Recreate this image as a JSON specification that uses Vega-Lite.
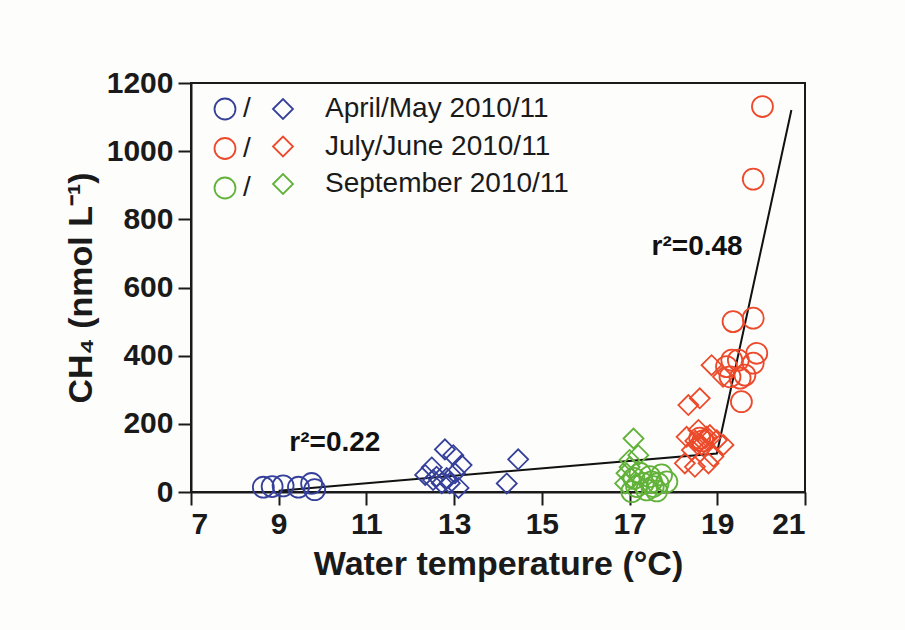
{
  "$schema": "https://vega.github.io/schema/vega-lite/v6.json",
  "width": 614,
  "height": 409,
  "autosize": {"type": "none"},
  "padding": {"left": 191, "top": 83, "right": 100, "bottom": 138},
  "background": "#fdfdfc",
  "config": {
    "view": {"stroke": "#1a1a1a", "strokeWidth": 2},
    "font": "Liberation Sans",
    "axis": {
      "grid": false,
      "domainColor": "#1a1a1a",
      "domainWidth": 2,
      "tickColor": "#1a1a1a",
      "tickWidth": 2,
      "tickSize": 13,
      "labelFont": "Liberation Sans",
      "labelFontSize": 30,
      "labelFontWeight": "bold",
      "labelColor": "#1a1a1a",
      "titleFont": "Liberation Sans",
      "titleFontSize": 34,
      "titleFontWeight": "bold",
      "titleColor": "#1a1a1a"
    },
    "legend": {
      "labelFont": "Liberation Sans",
      "labelColor": "#1a1a1a",
      "labelLimit": 0
    }
  },
  "datasets": {
    "pts": [
      {"T": 8.65, "C": 14, "season": "April/May 2010/11", "year": 2010},
      {"T": 8.85, "C": 16, "season": "April/May 2010/11", "year": 2010},
      {"T": 9.1, "C": 18, "season": "April/May 2010/11", "year": 2010},
      {"T": 9.45, "C": 14, "season": "April/May 2010/11", "year": 2010},
      {"T": 9.75, "C": 25, "season": "April/May 2010/11", "year": 2010},
      {"T": 9.82, "C": 7, "season": "April/May 2010/11", "year": 2010},
      {"T": 12.79, "C": 125, "season": "April/May 2010/11", "year": 2011},
      {"T": 12.98, "C": 108, "season": "April/May 2010/11", "year": 2011},
      {"T": 13.17, "C": 79, "season": "April/May 2010/11", "year": 2011},
      {"T": 12.49, "C": 72, "season": "April/May 2010/11", "year": 2011},
      {"T": 12.34, "C": 50, "season": "April/May 2010/11", "year": 2011},
      {"T": 12.6, "C": 45, "season": "April/May 2010/11", "year": 2011},
      {"T": 12.83, "C": 41, "season": "April/May 2010/11", "year": 2011},
      {"T": 13.02, "C": 55, "season": "April/May 2010/11", "year": 2011},
      {"T": 12.9, "C": 26, "season": "April/May 2010/11", "year": 2011},
      {"T": 13.1, "C": 12, "season": "April/May 2010/11", "year": 2011},
      {"T": 12.72, "C": 26, "season": "April/May 2010/11", "year": 2011},
      {"T": 12.52, "C": 35, "season": "April/May 2010/11", "year": 2011},
      {"T": 14.46, "C": 96, "season": "April/May 2010/11", "year": 2011},
      {"T": 14.2, "C": 25, "season": "April/May 2010/11", "year": 2011},
      {"T": 17.05, "C": 1, "season": "September 2010/11", "year": 2010},
      {"T": 17.31, "C": 25, "season": "September 2010/11", "year": 2010},
      {"T": 17.54, "C": 16, "season": "September 2010/11", "year": 2010},
      {"T": 17.73, "C": 50, "season": "September 2010/11", "year": 2010},
      {"T": 17.46, "C": 45, "season": "September 2010/11", "year": 2010},
      {"T": 17.24, "C": 55, "season": "September 2010/11", "year": 2010},
      {"T": 17.65, "C": 25, "season": "September 2010/11", "year": 2010},
      {"T": 17.85, "C": 30, "season": "September 2010/11", "year": 2010},
      {"T": 17.16, "C": 16, "season": "September 2010/11", "year": 2010},
      {"T": 17.39, "C": 6, "season": "September 2010/11", "year": 2010},
      {"T": 17.62, "C": 3, "season": "September 2010/11", "year": 2010},
      {"T": 17.1, "C": 40, "season": "September 2010/11", "year": 2010},
      {"T": 17.5, "C": 30, "season": "September 2010/11", "year": 2010},
      {"T": 17.09, "C": 157, "season": "September 2010/11", "year": 2011},
      {"T": 17.2, "C": 108, "season": "September 2010/11", "year": 2011},
      {"T": 17.0, "C": 94, "season": "September 2010/11", "year": 2011},
      {"T": 16.93, "C": 55, "season": "September 2010/11", "year": 2011},
      {"T": 17.05, "C": 40, "season": "September 2010/11", "year": 2011},
      {"T": 16.9, "C": 25, "season": "September 2010/11", "year": 2011},
      {"T": 17.0, "C": 73, "season": "September 2010/11", "year": 2011},
      {"T": 20.03, "C": 1131, "season": "July/June 2010/11", "year": 2010},
      {"T": 19.82, "C": 918, "season": "July/June 2010/11", "year": 2010},
      {"T": 19.36, "C": 500, "season": "July/June 2010/11", "year": 2010},
      {"T": 19.82, "C": 510, "season": "July/June 2010/11", "year": 2010},
      {"T": 19.9, "C": 407, "season": "July/June 2010/11", "year": 2010},
      {"T": 19.33, "C": 387, "season": "July/June 2010/11", "year": 2010},
      {"T": 19.48, "C": 387, "season": "July/June 2010/11", "year": 2010},
      {"T": 19.82, "C": 378, "season": "July/June 2010/11", "year": 2010},
      {"T": 19.21, "C": 368, "season": "July/June 2010/11", "year": 2010},
      {"T": 19.63, "C": 343, "season": "July/June 2010/11", "year": 2010},
      {"T": 19.29, "C": 338, "season": "July/June 2010/11", "year": 2010},
      {"T": 19.52, "C": 334, "season": "July/June 2010/11", "year": 2010},
      {"T": 19.55, "C": 265, "season": "July/June 2010/11", "year": 2010},
      {"T": 18.6, "C": 158, "season": "July/June 2010/11", "year": 2010},
      {"T": 18.67, "C": 150, "season": "July/June 2010/11", "year": 2010},
      {"T": 18.34, "C": 255, "season": "July/June 2010/11", "year": 2011},
      {"T": 18.6, "C": 275, "season": "July/June 2010/11", "year": 2011},
      {"T": 18.87, "C": 372, "season": "July/June 2010/11", "year": 2011},
      {"T": 19.13, "C": 338, "season": "July/June 2010/11", "year": 2011},
      {"T": 18.3, "C": 162, "season": "July/June 2010/11", "year": 2011},
      {"T": 18.57, "C": 182, "season": "July/June 2010/11", "year": 2011},
      {"T": 18.76, "C": 162, "season": "July/June 2010/11", "year": 2011},
      {"T": 19.14, "C": 138, "season": "July/June 2010/11", "year": 2011},
      {"T": 18.26, "C": 84, "season": "July/June 2010/11", "year": 2011},
      {"T": 18.49, "C": 74, "season": "July/June 2010/11", "year": 2011},
      {"T": 18.8, "C": 84, "season": "July/June 2010/11", "year": 2011},
      {"T": 18.91, "C": 104, "season": "July/June 2010/11", "year": 2011},
      {"T": 18.42, "C": 123, "season": "July/June 2010/11", "year": 2011},
      {"T": 18.64, "C": 138, "season": "July/June 2010/11", "year": 2011},
      {"T": 18.99, "C": 152, "season": "July/June 2010/11", "year": 2011},
      {"T": 18.72, "C": 157, "season": "July/June 2010/11", "year": 2011},
      {"T": 18.83, "C": 167, "season": "July/June 2010/11", "year": 2011},
      {"T": 18.5, "C": 150, "season": "July/June 2010/11", "year": 2011},
      {"T": 18.55, "C": 140, "season": "July/June 2010/11", "year": 2011}
    ],
    "fit": [
      {"T": 9.0, "C": 4},
      {"T": 18.99, "C": 113},
      {"T": 20.69, "C": 1121}
    ],
    "ann": [
      {"T": 10.28, "C": 144, "label": "r²=0.22"},
      {"T": 18.54, "C": 718, "label": "r²=0.48"}
    ]
  },
  "encoding": {
    "x": {
      "field": "T",
      "type": "quantitative",
      "scale": {"domain": [7, 21], "nice": false, "zero": false},
      "axis": {
        "values": [7, 9, 11, 13, 15, 17, 19, 21],
        "labelPadding": 4,
        "title": "Water temperature (°C)",
        "titlePadding": 8
      }
    },
    "y": {
      "field": "C",
      "type": "quantitative",
      "scale": {"domain": [0, 1200], "nice": false},
      "axis": {
        "values": [0, 200, 400, 600, 800, 1000, 1200],
        "format": "d",
        "labelPadding": 5,
        "title": "CH₄ (nmol L⁻¹)",
        "titlePadding": 8
      }
    }
  },
  "layer": [
    {
      "data": {"name": "fit"},
      "mark": {"type": "line", "color": "#111111", "strokeWidth": 2}
    },
    {
      "data": {"name": "pts"},
      "transform": [{"filter": "datum.year == 2010"}],
      "mark": {"type": "point", "shape": "circle", "filled": false, "size": 440, "strokeWidth": 1.8, "opacity": 1},
      "encoding": {
        "color": {
          "field": "season",
          "type": "nominal",
          "scale": {
            "domain": ["April/May 2010/11", "July/June 2010/11", "September 2010/11"],
            "range": ["#35409a", "#ec4a2a", "#62b23a"]
          },
          "legend": {
            "orient": "none",
            "legendX": 20,
            "legendY": 12,
            "padding": 0,
            "title": null,
            "symbolType": "circle",
            "symbolSize": 440,
            "symbolStrokeWidth": 1.8,
            "labelExpr": "'/'",
            "labelFontSize": 28,
            "labelOffset": 4,
            "rowPadding": 9.5
          }
        }
      }
    },
    {
      "data": {"name": "pts"},
      "transform": [{"filter": "datum.year == 2011"}],
      "mark": {"type": "point", "shape": "diamond", "filled": false, "size": 400, "strokeWidth": 1.8, "opacity": 1},
      "encoding": {
        "color": {
          "field": "season",
          "type": "nominal",
          "scale": {
            "domain": ["April/May 2010/11", "July/June 2010/11", "September 2010/11"],
            "range": ["#35409a", "#ec4a2a", "#62b23a"]
          },
          "legend": {
            "orient": "none",
            "legendX": 78,
            "legendY": 12,
            "padding": 0,
            "title": null,
            "symbolType": "diamond",
            "symbolSize": 400,
            "symbolStrokeWidth": 1.8,
            "labelFontSize": 28,
            "labelOffset": 28,
            "rowPadding": 9.5
          }
        }
      }
    },
    {
      "data": {"name": "ann"},
      "mark": {"type": "text", "font": "Liberation Sans", "fontSize": 28, "fontWeight": "bold", "color": "#111111", "align": "center", "baseline": "middle"},
      "encoding": {
        "text": {"field": "label", "type": "nominal"}
      }
    }
  ],
  "resolve": {"scale": {"color": "independent"}}
}
